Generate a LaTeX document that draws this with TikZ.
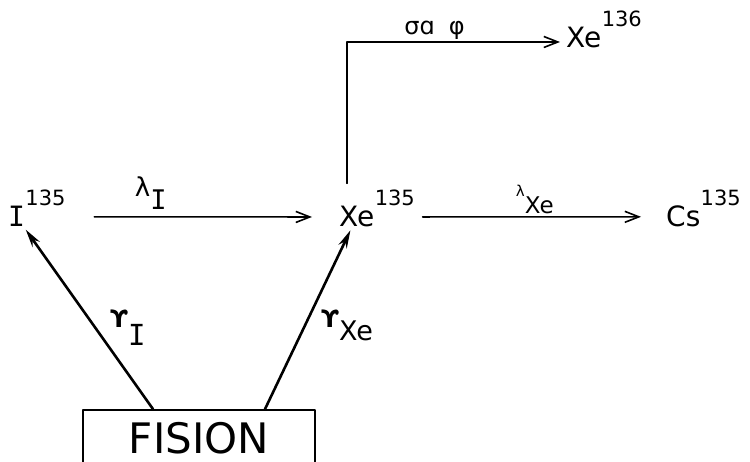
\documentclass[tikz,border=0pt]{standalone}
\usepackage{fontspec}
\setmainfont{DejaVu Sans}
\newfontfamily\serifI{DejaVu Sans Mono}
\usetikzlibrary{arrows.meta}
\newcommand{\ratelbl}[5][-13pt]{{\fontsize{#3}{#3}\selectfont #2}\raisebox{#1}{\fontsize{#5}{#5}\selectfont #4}}

\begin{document}
\begin{tikzpicture}[x=1pt, y=-1pt, line join=round, line cap=round,
    elem/.style={inner sep=0pt, anchor=base west, font=\fontsize{28}{28}\selectfont},
    sup/.style={inner sep=0pt, font=\fontsize{21}{21}\selectfont},
    decay/.style={-{Straight Barb[length=14pt, width=11pt]}, line width=1.6pt},
    yield/.style={-{Stealth[length=18pt, width=9pt]}, line width=2.6pt},
    rate/.style={inner sep=0pt}]
  \useasboundingbox (0,0) rectangle (750,462);
  \foreach \n/\t/\s/\x/\y in {i135/{\serifI I}/135/8/227, xe135/Xe/135/339/227, cs135/Cs/135/666/227, xe136/Xe/136/566/48}{
    \node[elem, label={[sup]north east:\s}] (\n) at (\x,\y) {\t};
  }
  \node[draw, line width=1.8pt, minimum width=232pt, minimum height=56pt,
    font=\fontsize{42}{42}\selectfont] (fission) at (199,438) {FISION};
  \draw[decay, shorten <=69pt, shorten >=27pt] (i135) -- node[rate, pos=0.4, above=7pt] {\ratelbl{λ}{26}{\serifI I}{27}} (xe135);
  \draw[decay, shorten <=48pt, shorten >=25pt] (xe135) -- node[rate, pos=0.55, above=2pt] {\ratelbl[-17pt]{λ}{15}{Xe}{23}} (cs135);
  \draw[decay, shorten <=23pt, shorten >=6pt] ([xshift=-10pt]xe135.north) |- node[rate, pos=0.7, anchor=base, yshift=7pt, font=\fontsize{24}{24}\selectfont] {σɑ\hspace{14pt}φ} ([yshift=-4pt]xe136.west);
  \draw[yield, shorten >=3pt] ([xshift=-46pt]fission.north) -- node[rate, pos=0.45, right=14pt] {\ratelbl[-18pt]{\bfseries ϒ}{24}{\serifI I}{29}} (i135);
  \draw[yield, shorten >=3pt] ([xshift=66pt]fission.north) -- node[rate, pos=0.46, right=15pt] {\ratelbl{\bfseries ϒ}{24}{Xe}{27}} (xe135);
\end{tikzpicture}
\end{document}
